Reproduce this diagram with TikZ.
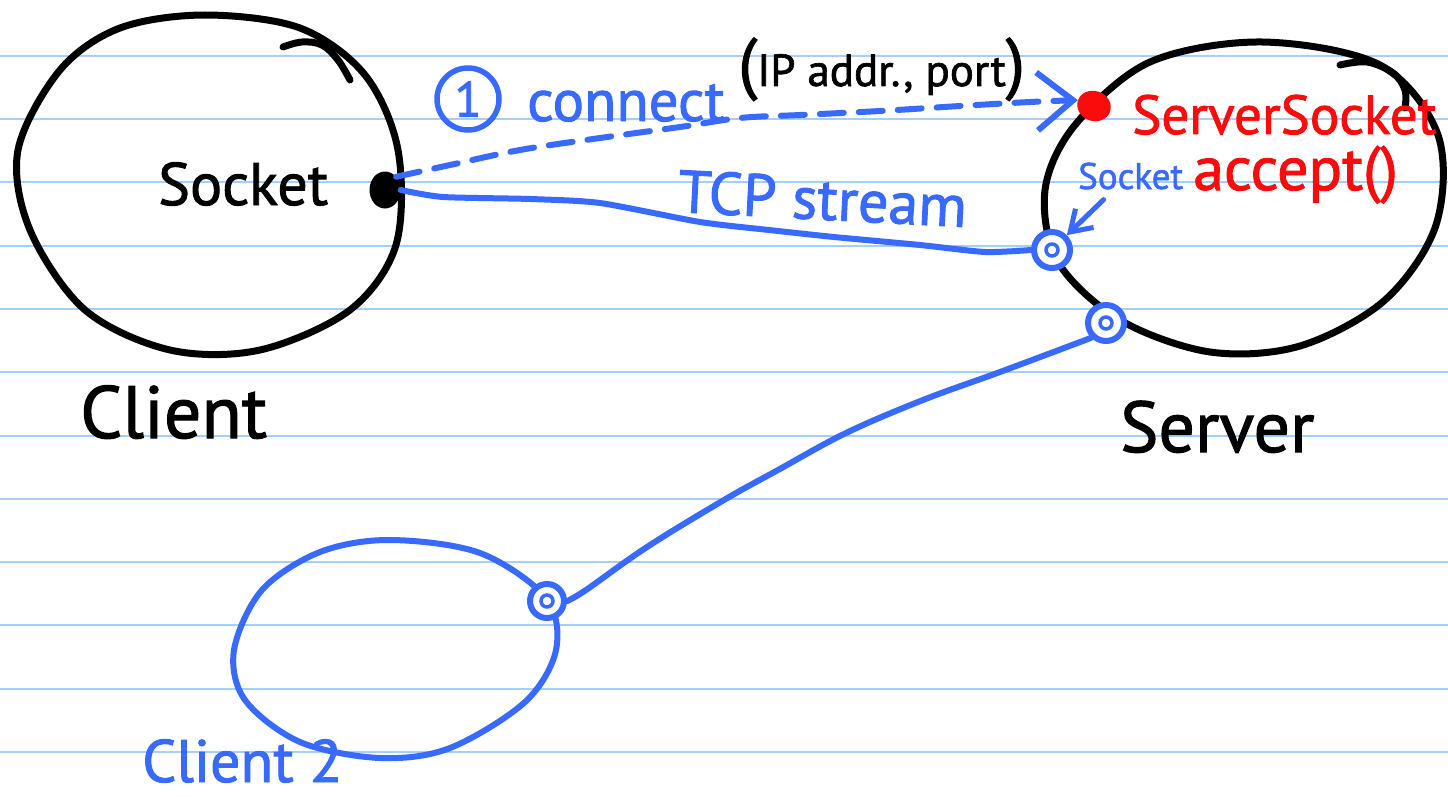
\documentclass[tikz,border=0pt]{standalone}
\usepackage{fontspec}
\setmainfont{PT Sans}
\newfontfamily\penface[FakeBold=1.5]{PT Sans}
\usetikzlibrary{arrows.meta,shapes.geometric}
\definecolor{rulecol}{RGB}{166,206,250}
\definecolor{bluepen}{RGB}{56,106,255}
\definecolor{redpen}{RGB}{250,12,12}
\newcommand{\penfont}[1]{\penface\fontsize{#1}{#1}\selectfont}
\tikzset{
  blackstroke/.style={draw=black, line width=7pt, line cap=round, line join=round},
  bluestroke/.style={draw=bluepen, line width=6pt, line cap=round, line join=round},
  lbl/.style={inner sep=0pt, anchor=base west},
  sockring/.style={circle, draw=bluepen, line width=6pt, minimum size=36pt, inner sep=0pt},
}
\begin{document}
\begin{tikzpicture}[x=1pt, y=-1pt]
\useasboundingbox (0,0) rectangle (1448,797);
\fill[white] (0,0) rectangle (1448,797);
% ruled paper
\foreach \k in {0,...,11}
  \draw[rulecol, line width=2pt] (0,55.7+63.3*\k) -- (1448,55.7+63.3*\k);

% client outline
\draw[blackstroke] plot[smooth cycle, tension=0.55] coordinates {
  (205,15) (300,28) (365,75) (398,150) (396,245) (350,310) (260,350)
  (170,350) (85,310) (30,230) (18,150) (60,70) (120,28)};
\draw[blackstroke] plot[smooth, tension=0.6] coordinates {(283,47) (302,42) (322,45) (338,60) (350,80)};

% server outline
\draw[blackstroke] plot[smooth cycle, tension=0.55] coordinates {
  (1262,42) (1380,65) (1438,135) (1436,225) (1385,300) (1300,346) (1210,352)
  (1120,320) (1058,262) (1045,190) (1075,125) (1150,62)};
\draw[blackstroke] plot[smooth, tension=0.6] coordinates {(1340,65) (1367,62) (1393,73) (1405,90) (1405,108)};

% second client outline
\draw[bluestroke] plot[smooth cycle, tension=0.55] coordinates {
  (390,540) (480,553) (546,598) (556,650) (525,702) (450,748) (380,758)
  (300,742) (245,700) (234,650) (262,590) (320,552)};

% socket end points
\node[ellipse, fill=black, minimum width=31pt, minimum height=37pt, inner sep=0pt] (dot) at (385,190) {};
\node[ellipse, fill=redpen, minimum width=34pt, minimum height=30pt, inner sep=0pt, rotate=-20] (blob) at (1094,106) {};
\node[sockring, fill=white] (sockA) at (1052,250) {};
\node[sockring, fill=white] (sockB) at (1106,323) {};
\node[sockring, fill=white, minimum size=34pt] (sockC) at (547,601) {};
\draw[bluepen, line width=3.5pt] (sockA) circle (6);
\draw[bluepen, line width=3.5pt] (sockB) circle (6);
\draw[bluepen, line width=3.5pt] (sockC) circle (6);

% labels
\node[lbl] (sockettxt) at (158,205) {\penfont{60}Socket};
\node[lbl] (clienttxt) at (80,438) {\penfont{74}Client};
\node[lbl] (servertxt) at (1120,452) {\penfont{72}Server};
\node[lbl, text=redpen] (sstxt) at (1132,134) {\penfont{55}ServerSocket};
\node[lbl, text=redpen] (accepttxt) at (1193,190) {\penfont{62}accept()};
\node[lbl, text=bluepen] (socklbl) at (1078,189) {\penfont{37}Socket};
\node[circle, draw=bluepen, line width=5.5pt, minimum size=62pt, inner sep=0pt, text=bluepen] (stepone) at (468,99) {\penfont{50}1};
\node[lbl, text=bluepen] (connecttxt) at (527,121) {\penfont{59}connect};
\node[lbl] (argstxt) at (738,86) {{\penfont{68}(}\penfont{45}IP addr., port{\penfont{68})}};
\node[lbl, text=bluepen, rotate=-3] (tcptxt) at (677,212) {\penfont{60}TCP stream};
\node[lbl, text=bluepen] (client2txt) at (142,782) {\penfont{60}Client 2};

% connect request
\draw[bluestroke, dash pattern=on 24pt off 15pt, -{Straight Barb[length=36pt, width=58pt]}]
  plot[smooth, tension=0.6] coordinates {(dot.north east) (450,165) (520,150) (600,138)
  (680,127) (740,118) (800,115) (880,111) (960,106) (1030,102) (blob.west)};

% established stream
\draw[bluestroke] plot[smooth, tension=0.4] coordinates {(dot.east) (443,197) (530,199)
  (600,203) (700,222) (769,230) (834,237) (920,245) (985,252) (sockA.west)};

% second stream
\draw[bluestroke] plot[smooth, tension=0.6] coordinates {(sockB.south west) (1000,372)
  (923,400) (846,433) (778,470) (724,500) (647,547) (586,590) (sockC.east)};

% pointer to accepted socket
\draw[bluestroke, line width=5pt, -{Straight Barb[length=20pt, width=26pt]}]
  ([xshift=-27pt, yshift=-10pt]socklbl.south) -- (sockA.north east);
\end{tikzpicture}
\end{document}
